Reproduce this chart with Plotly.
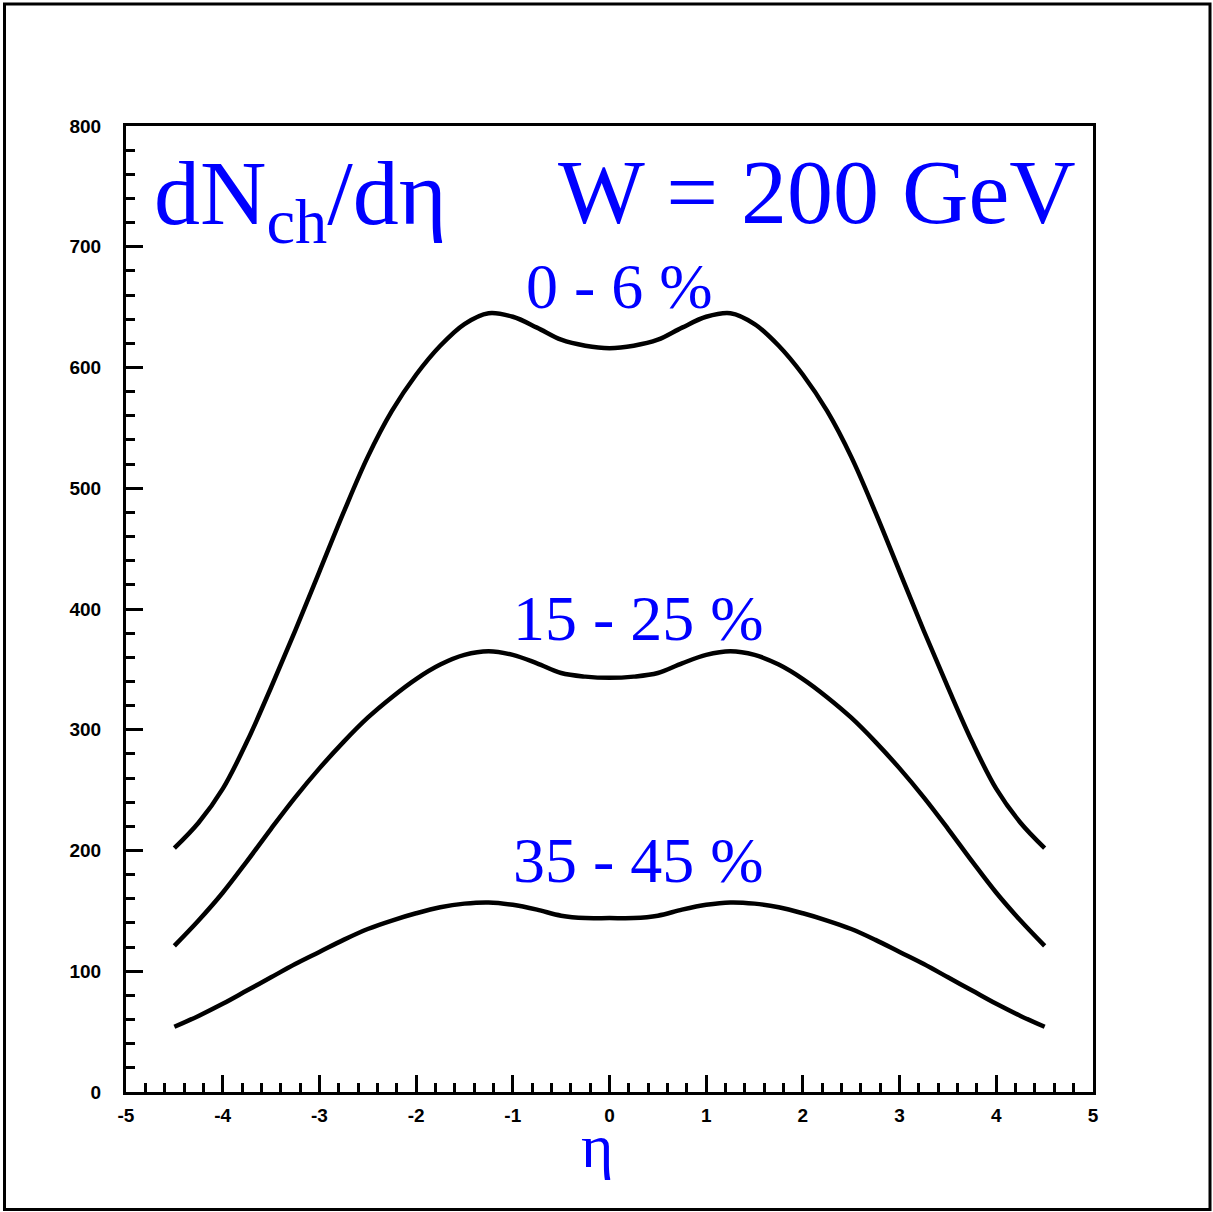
import plotly.graph_objects as go

# ---- data (values at eta steps of 0.25) ----
eta = [-4.5, -4.25, -4.0, -3.75, -3.5, -3.25, -3.0, -2.75, -2.5, -2.25, -2.0, -1.75, -1.5, -1.25,
       -1.0, -0.75, -0.5, -0.25, 0.0, 0.25, 0.5, 0.75, 1.0, 1.25, 1.5, 1.75, 2.0, 2.25, 2.5,
       2.75, 3.0, 3.25, 3.5, 3.75, 4.0, 4.25, 4.5]
c0_6 = [202, 223, 251, 290, 335, 382, 431, 480, 526, 564, 594, 618, 636, 645,
        642, 633, 623, 618, 616, 618, 623, 633, 642, 645, 636, 618, 594, 564, 526,
        480, 431, 382, 335, 290, 251, 223, 202]
c15_25 = [121, 142, 165, 191, 218, 244, 268, 290, 310, 327, 342, 354, 362, 365,
          362, 355, 347, 344, 343, 344, 347, 355, 362, 365, 362, 354, 342, 327, 310,
          290, 268, 244, 218, 191, 165, 142, 121]
c35_45 = [54, 63, 73, 84, 95, 106, 116, 126, 135, 142, 148, 153, 156, 157,
          155, 151, 146, 144, 144, 144, 146, 151, 155, 157, 156, 153, 148, 142, 135,
          126, 116, 106, 95, 84, 73, 63, 54]

labels = ["0 - 6 %", "15 - 25 %", "35 - 45 %"]
label_x = [0.1, 0.3, 0.3]
label_y = [636, 361, 161]

x_tickvals = [-5, -4, -3, -2, -1, 0, 1, 2, 3, 4, 5]
x_ticktext = ["-5", "-4", "-3", "-2", "-1", "0", "1", "2", "3", "4", "5"]
y_tickvals = [0, 100, 200, 300, 400, 500, 600, 700, 800]
y_ticktext = ["0", "100", "200", "300", "400", "500", "600", "700", "800"]

fig = go.Figure()
for ys in [c0_6, c15_25, c35_45]:
    fig.add_trace(go.Scatter(x=eta, y=ys, mode="lines",
                             line=dict(color="black", width=4.5, shape="spline", smoothing=1.0),
                             showlegend=False, hoverinfo="skip"))

blue = "#0000ff"
serif = "Liberation Serif, Times New Roman, serif"
for t, lx, ly in zip(labels, label_x, label_y):
    fig.add_annotation(x=lx, y=ly, text=t, showarrow=False, yanchor="bottom",
                       font=dict(family=serif, size=64, color=blue))

fig.add_annotation(xref="paper", yref="paper", x=0.0269, y=0.9855, xanchor="left", yanchor="top",
                   text="dN<sub>ch</sub>/dη", showarrow=False,
                   font=dict(family=serif, size=92, color=blue))
fig.add_annotation(xref="paper", yref="paper", x=0.9845, y=0.9865, xanchor="right", yanchor="top",
                   text="W = 200 GeV", showarrow=False,
                   font=dict(family=serif, size=92, color=blue))
# axis title (eta)
fig.add_annotation(xref="x", yref="paper", x=-0.13, y=(1092 - 1110) / 966, xanchor="center", yanchor="top",
                   text="η", showarrow=False, font=dict(family=serif, size=62, color=blue))

# outer frame
fig.add_shape(type="rect", xref="paper", yref="paper",
              x0=(4.5 - 126) / 967, x1=(1210 - 126) / 967,
              y0=(1092 - 1209.5) / 966, y1=(1092 - 4) / 966,
              line=dict(color="black", width=3))

axfont = dict(family="Liberation Sans, Arial, sans-serif", size=19, color="black", weight="bold")
fig.update_xaxes(range=[-5, 5], tickmode="array", tickvals=x_tickvals, ticktext=x_ticktext,
                 ticks="inside", ticklen=17, tickwidth=3, tickcolor="black",
                 showline=True, linewidth=3, linecolor="black", mirror=True,
                 showgrid=False, zeroline=False, tickfont=axfont, ticklabelstandoff=4,
                 minor=dict(ticks="inside", ticklen=9, tickwidth=3, dtick=0.2, tick0=0, tickcolor="black"))
fig.update_yaxes(range=[0, 800], tickmode="array", tickvals=y_tickvals, ticktext=y_ticktext,
                 ticks="inside", ticklen=17, tickwidth=3, tickcolor="black",
                 showline=True, linewidth=3, linecolor="black", mirror=True,
                 showgrid=False, zeroline=False, tickfont=axfont, ticklabelstandoff=18,
                 minor=dict(ticks="inside", ticklen=9, tickwidth=3, dtick=20, tick0=0, tickcolor="black"))
fig.update_layout(width=1213, height=1212, paper_bgcolor="white", plot_bgcolor="white",
                  margin=dict(l=126, r=120, t=126, b=120),
                  font=dict(family="Liberation Sans", color="black"))
fig.write_html("out.html", config={"displayModeBar": False},
               post_script="document.body.style.margin='0';")
